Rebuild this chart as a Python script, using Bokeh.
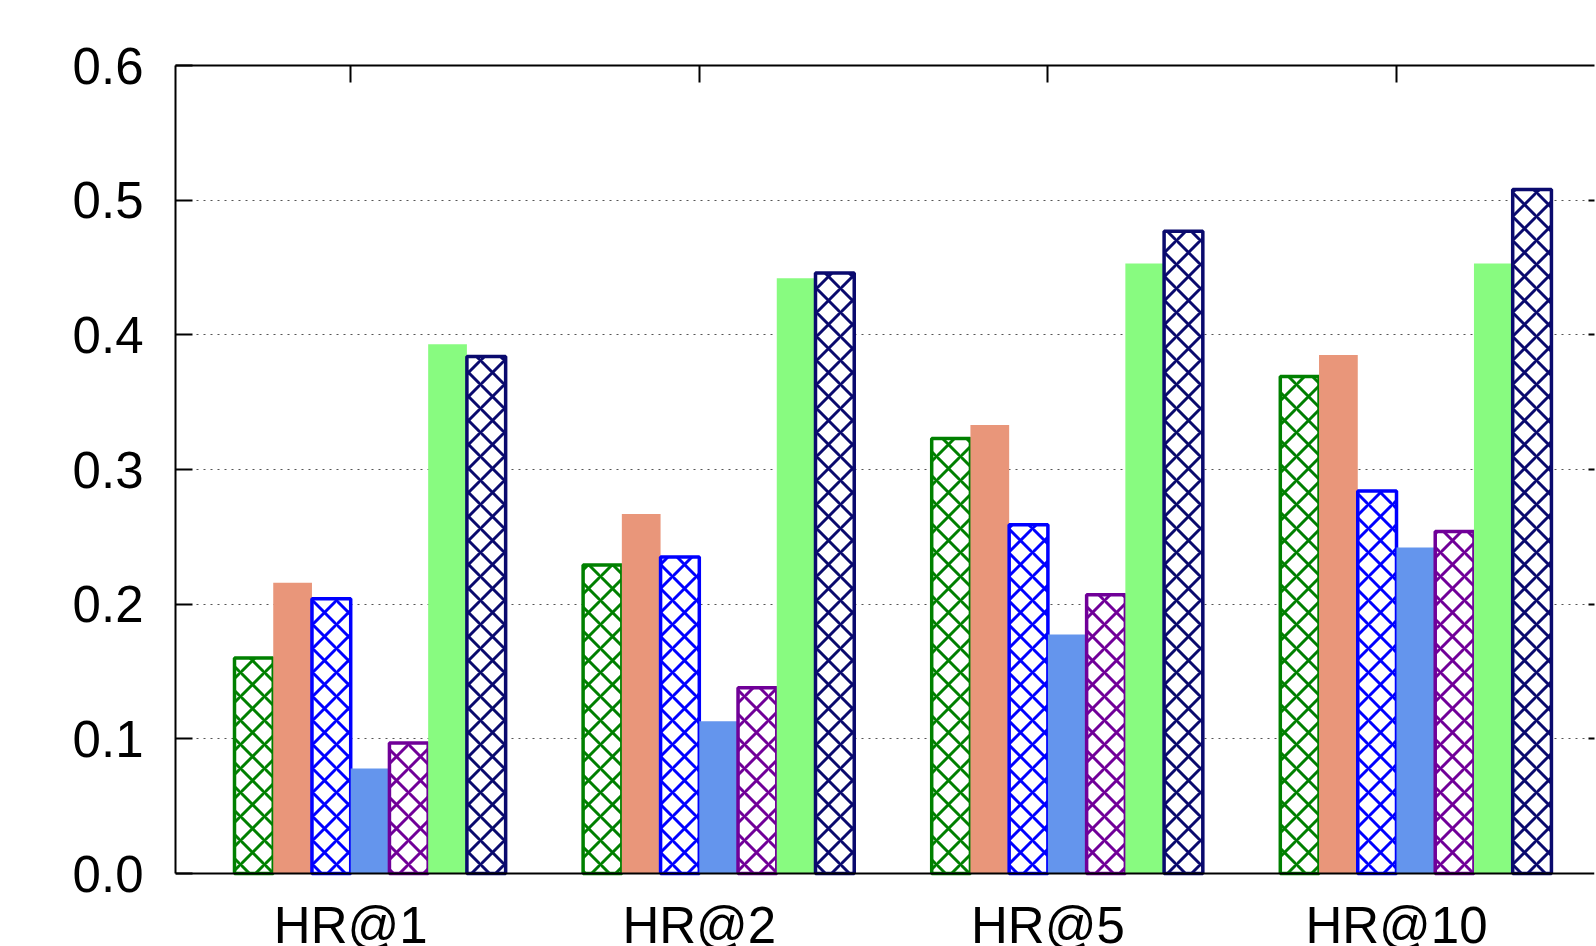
from bokeh.plotting import figure
from bokeh.models import Range1d, FixedTicker, LinearAxis, ColumnDataSource, Grid
from bokeh.embed import file_html
from bokeh.resources import INLINE

categories = ["HR@1", "HR@2", "HR@5", "HR@10"]
s1 = [0.160, 0.229, 0.323, 0.369]   # green hatched
s2 = [0.216, 0.267, 0.333, 0.385]   # salmon
s3 = [0.204, 0.235, 0.259, 0.284]   # blue hatched
s4 = [0.078, 0.113, 0.1775, 0.242]  # cornflower
s5 = [0.097, 0.138, 0.207, 0.254]   # purple hatched
s6 = [0.393, 0.442, 0.453, 0.453]   # light green
s7 = [0.384, 0.446, 0.477, 0.508]   # navy hatched
series = [s1, s2, s3, s4, s5, s6, s7]
y_ticks = [0.0, 0.1, 0.2, 0.3, 0.4, 0.5, 0.6]
y_tick_labels = ["0.0", "0.1", "0.2", "0.3", "0.4", "0.5", "0.6"]

colors = ["#008000", "#e9967a", "#0000ff", "#6495ed", "#700098", "#88fb80", "#0a0a6e"]
hatched = [True, False, True, False, True, False, True]

FONT = "Liberation Sans"

p = figure(width=1596, height=946, output_backend="svg", toolbar_location=None,
           x_range=Range1d(-0.5026, 3.568), y_range=Range1d(-0.0542, 0.6),
           min_border_left=175, min_border_right=2, min_border_top=65, min_border_bottom=0,
           x_axis_location=None, y_axis_location=None)
p.outline_line_color = None
p.background_fill_color = "white"
p.border_fill_color = "white"
p.xgrid.visible = False
p.ygrid.visible = False

grid = Grid(dimension=1, ticker=FixedTicker(ticks=[0.1, 0.2, 0.3, 0.4, 0.5]),
            grid_line_color="#555555", grid_line_width=1, grid_line_dash="2 5")
p.add_layout(grid)

nb = len(series)
bw = 1.0 / 9.0
gx = list(range(len(categories)))
for j, (vals, c, h) in enumerate(zip(series, colors, hatched)):
    xs = [g + (j - (nb - 1) / 2.0 + 0.5) * bw for g in gx]
    src = ColumnDataSource(dict(x=xs, top=vals))
    if h:
        p.vbar(x="x", top="top", bottom=0, width=bw, source=src,
               fill_color="white", line_color=c, line_width=3.5,
               hatch_pattern="x", hatch_color=c, hatch_scale=24, hatch_weight=3)
    else:
        p.vbar(x="x", top="top", bottom=0, width=bw, source=src,
               fill_color=c, line_color=None)

left = LinearAxis(ticker=FixedTicker(ticks=y_ticks), bounds=(0, 0.6))
left.major_label_overrides = {t: l for t, l in zip(y_ticks, y_tick_labels)}
left.major_label_text_font = FONT
left.major_label_text_font_size = "51px"
left.major_label_text_color = "black"
left.major_tick_in = 17
left.major_tick_out = 0
left.major_tick_line_width = 2
left.minor_tick_line_color = None
left.axis_line_width = 2
left.major_label_standoff = 32
p.add_layout(left, "left")

bottom = LinearAxis(ticker=FixedTicker(ticks=gx), fixed_location=0)
bottom.major_label_overrides = {g: c for g, c in zip(gx, categories)}
bottom.major_label_text_font = FONT
bottom.major_label_text_font_size = "51px"
bottom.major_label_text_color = "black"
bottom.major_label_standoff = 23
bottom.major_tick_in = 0
bottom.major_tick_out = 0
bottom.minor_tick_line_color = None
bottom.axis_line_width = 2
p.add_layout(bottom, "below")

top = LinearAxis(ticker=FixedTicker(ticks=gx))
top.major_label_text_font_size = "0px"
top.major_label_standoff = 0
top.major_tick_in = 17
top.major_tick_out = 0
top.major_tick_line_width = 2
top.minor_tick_line_color = None
top.axis_line_width = 2
p.add_layout(top, "above")

right = LinearAxis(ticker=FixedTicker(ticks=y_ticks[1:-1]), bounds=(0, 0.6))
right.major_label_text_font_size = "0px"
right.major_label_standoff = 0
right.major_tick_in = 6
right.major_tick_out = 0
right.major_tick_line_width = 2
right.minor_tick_line_color = None
right.axis_line_color = None
p.add_layout(right, "right")

open("out.html", "w").write(file_html(p, INLINE))
